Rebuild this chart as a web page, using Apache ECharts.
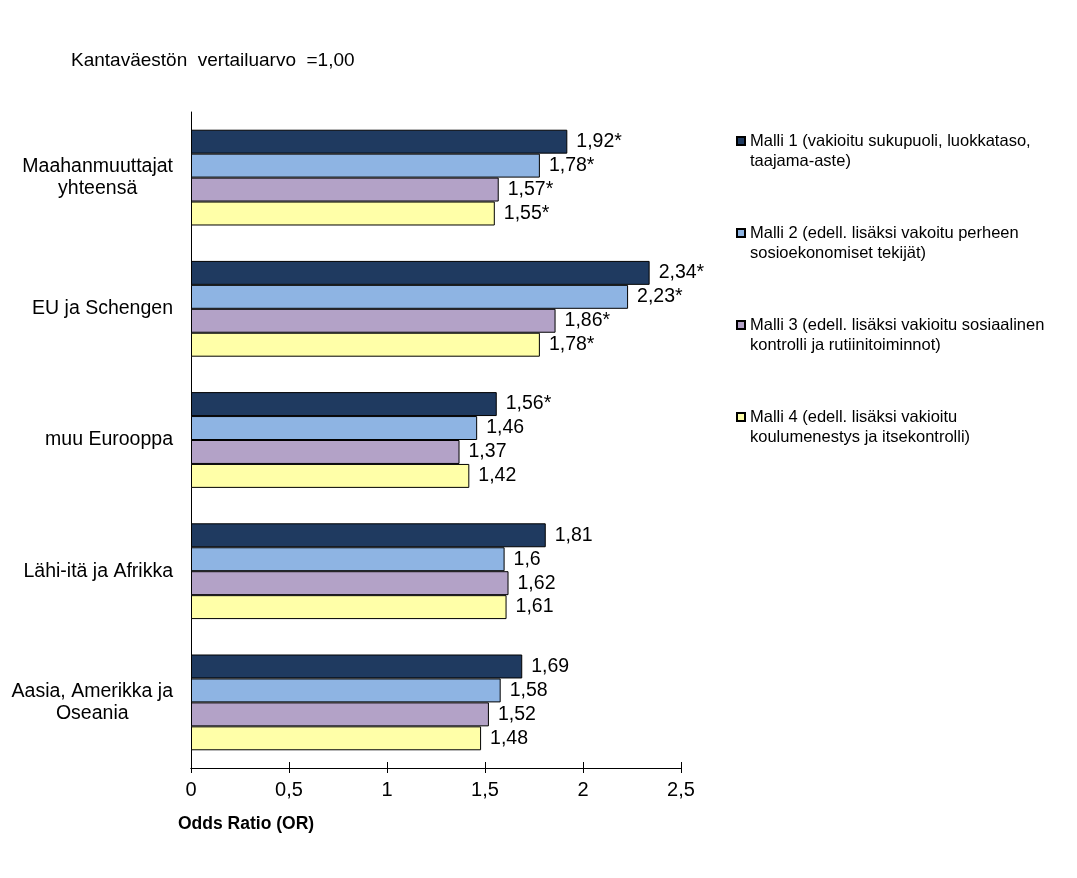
<!DOCTYPE html>
<html>
<head>
<meta charset="utf-8">
<script src="https://cdn.jsdelivr.net/npm/echarts@6/dist/echarts.min.js"></script>
<style>
html,body{margin:0;padding:0;background:#fff;}
#chart{width:1077px;height:878px;}
</style>
</head>
<body>
<div id="chart"></div>
<script>
const categories = ['Maahanmuuttajat\nyhteensä', 'EU ja Schengen', 'muu Eurooppa', 'Lähi-itä ja Afrikka', 'Aasia, Amerikka ja\nOseania'];
const seriesNames = [
  'Malli 1 (vakioitu sukupuoli, luokkataso,\ntaajama-aste)',
  'Malli 2 (edell. lisäksi vakoitu perheen\nsosioekonomiset tekijät)',
  'Malli 3 (edell. lisäksi vakioitu sosiaalinen\nkontrolli ja rutiinitoiminnot)',
  'Malli 4 (edell. lisäksi vakioitu\nkoulumenestys ja itsekontrolli)'
];
const malli1 = [1.92, 2.34, 1.56, 1.81, 1.69];
const malli2 = [1.78, 2.23, 1.46, 1.60, 1.58];
const malli3 = [1.57, 1.86, 1.37, 1.62, 1.52];
const malli4 = [1.55, 1.78, 1.42, 1.61, 1.48];
const sig1 = [true, true, true, false, false];
const sig2 = [true, true, false, false, false];
const sig3 = [true, true, false, false, false];
const sig4 = [true, true, false, false, false];
const xTicks = [0, 0.5, 1, 1.5, 2, 2.5];
const titleText = 'Kantaväestön  vertailuarvo  =1,00';
const axisTitle = 'Odds Ratio (OR)';
const colors = ['#1f3a60', '#8eb4e3', '#b3a2c7', '#ffffa8'];

const FONT = '"Liberation Sans", Arial, sans-serif';
const fmtNum = v => String(Math.round(v * 100) / 100).replace('.', ',');

const values = [malli1, malli2, malli3, malli4];
const sigs = [sig1, sig2, sig3, sig4];

const gridBox = { left: 191, right: 396, top: 112, bottom: 110, containLabel: false };

const series = values.map((vals, i) => ({
  name: seriesNames[i],
  type: 'bar',
  data: vals,
  barGap: '0%',
  barCategoryGap: '27%',
  itemStyle: { color: colors[i], borderColor: '#000', borderWidth: 1 },
  label: {
    show: true,
    position: 'right',
    distance: 9,
    fontFamily: FONT,
    fontSize: 19.5,
    color: '#000',
    formatter: p => fmtNum(p.value) + (sigs[i][p.dataIndex] ? '*' : '')
  }
}));

const chart = echarts.init(document.getElementById('chart'), null, { renderer: 'canvas' });
chart.setOption({
  animation: false,
  backgroundColor: '#fff',
  title: {
    text: titleText,
    left: 66,
    top: 46,
    textStyle: { fontFamily: FONT, fontSize: 19, fontWeight: 'normal', color: '#000' }
  },
  legend: {
    orient: 'vertical',
    left: 731,
    top: 106,
    itemWidth: 8,
    itemHeight: 8,
    itemGap: 32,
    icon: 'rect',
    selectedMode: false,
    formatter: n => '\n' + n,
    textStyle: { fontFamily: FONT, fontSize: 16.5, lineHeight: 20, color: '#000' },
    data: seriesNames
  },
  grid: [Object.assign({}, gridBox), Object.assign({}, gridBox)],
  xAxis: [{
    type: 'value',
    gridIndex: 0,
    position: 'bottom',
    min: 0, max: 2.5, interval: 0.5,
    axisLine: { show: true, lineStyle: { color: '#000', width: 1 } },
    axisTick: { show: true, length: 5, lineStyle: { color: '#000' } },
    splitLine: { show: false },
    axisLabel: {
      margin: 12,
      fontFamily: FONT, fontSize: 20, color: '#000',
      formatter: v => xTicks.includes(v) ? fmtNum(v) : ''
    }
  }, {
    type: 'value',
    gridIndex: 1,
    position: 'bottom',
    min: 0, max: 2.5, interval: 0.5,
    axisLine: { show: true, lineStyle: { color: '#000', width: 1 } },
    axisTick: { show: true, inside: true, length: 6, lineStyle: { color: '#000' } },
    splitLine: { show: false },
    axisLabel: { show: false }
  }],
  yAxis: [{
    type: 'category',
    gridIndex: 0,
    data: categories,
    inverse: true,
    axisLine: { show: true, lineStyle: { color: '#000', width: 1 } },
    axisTick: { show: false },
    axisLabel: {
      margin: 18,
      fontFamily: FONT, fontSize: 19.5, color: '#000',
      lineHeight: 22,
      formatter: v => v.split('\n').map(l => '{c|' + l + '}').join('\n'),
      rich: { c: { align: 'center', fontFamily: FONT, fontSize: 19.5, lineHeight: 22, color: '#000' } }
    }
  }, {
    type: 'category',
    gridIndex: 1,
    data: categories,
    inverse: true,
    show: false
  }],
  graphic: [{
    type: 'text',
    left: 178,
    top: 815,
    style: { text: axisTitle, fontFamily: FONT, fontSize: 17.5, fontWeight: 'bold', fill: '#000' }
  }],
  series: series
});
</script>
</body>
</html>
